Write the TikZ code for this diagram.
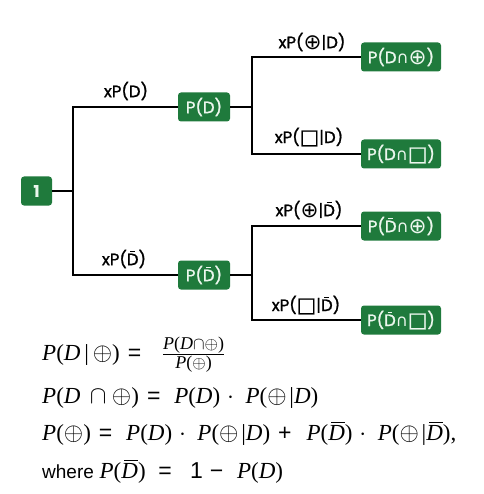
\documentclass[tikz,border=0pt]{standalone}
\usepackage{fontspec}
\setmainfont{Poppins}[FakeBold=1.2]
\newfontfamily\tnr{Liberation Serif}
\newfontfamily\ars{Liberation Sans}
\newfontfamily\dvsop{DejaVu Sans}[Scale=1.3]
\newfontfamily\dvssq{DejaVu Sans}[Scale=1.25,FakeBold=1.2]
\newfontfamily\dvs{DejaVu Sans}
\definecolor{boxgreen}{RGB}{31,122,60}
\definecolor{boxtext}{RGB}{236,247,238}
\newcommand\sOp{{\dvsop\raisebox{-0.05em}{⊕}}}
\newcommand\sCap{{\dvs ∩}}
\newcommand\sSq{{\dvssq\raisebox{-0.04em}{□}}}
\newcommand\Db{{\setbox0\hbox{D}\rlap{\hbox to\wd0{\hss\raise\dimexpr\ht0+1.6pt\relax\hbox{\vrule width .42\wd0 height .9pt depth 0pt}\hss}}\box0}}
\newcommand\fP{\textit{P}}
\newcommand\fD{\textit{D}}
\newcommand\fo{\ensuremath{\oplus}}
\newcommand\fbar{\hspace{0.12em}|}
\newcommand\fdot{\hspace{0.3em}\ensuremath{\cdot}\hspace{0.5em}}
\newcommand\feq{\hspace{0.35em}{\ars=}\hspace{0.6em}}
\newcommand\ovD{{\setbox0\hbox{\textit{D}}\rlap{\kern0.12em\raise\dimexpr\ht0+2.5pt\relax\hbox{\vrule width \dimexpr\wd0-0.1em\relax height .8pt depth 0pt}}\box0}}
\begin{document}
\begin{tikzpicture}[x=1pt,y=-1pt,
  box/.style={fill=boxgreen,text=boxtext,rounded corners=3pt,inner xsep=0pt,inner ysep=0pt,minimum height=29pt,font=\fontsize{16.5}{18}\selectfont},
  rootbox/.style={box,minimum width=31pt,font=\fontsize{16}{18}\selectfont\bfseries},
  midbox/.style={box,minimum width=52pt},
  leafbox/.style={box,minimum width=80pt},
  edgelabel/.style={font=\fontsize{16.5}{18}\selectfont,inner sep=0pt},
  link/.style={line width=2pt,black},
  formula/.style={anchor=base west,inner sep=0pt,font=\fontsize{23}{26}\selectfont\tnr}
]
\useasboundingbox (0,0) rectangle (483,494);
% nodes
\node[rootbox] (r) at (36.5,191) {1};
\node[midbox] (pd) at (204,107) {P(D)};
\node[midbox] (pdb) at (204,275) {P(\Db)};
\node[leafbox] (l1) at (401,57) {P(D\sCap\sOp)};
\node[leafbox] (l2) at (401,154) {P(D\sCap\sSq)};
\node[leafbox] (l3) at (401,226) {P(\Db\sCap\sOp)};
\node[leafbox] (l4) at (401,320) {P(\Db\sCap\sSq)};
% junctions
\coordinate (j0) at (73,191);
\coordinate (j1) at (252,107);
\coordinate (j2) at (252,275);
% connectors
\draw[link] (r.east) -- (j0);
\draw[link] (pd.west) -| (j0);
\draw[link] (pdb.west) -| (j0);
\draw[link] (pd.east) -- (j1);
\draw[link] (l1.west) -| (j1);
\draw[link] (l2.west) -| (j1);
\draw[link] (pdb.east) -- (j2);
\draw[link] (l3.west) -| (j2);
\draw[link] (l4.west) -| (j2);
% edge labels
\node[edgelabel] (ea) at (126,91) {xP(D)};
\node[edgelabel] (eb) at (124,259) {xP(\Db)};
\node[edgelabel] (ec) at (312,42) {xP(\sOp|D)};
\node[edgelabel] (ed) at (309,137) {xP(\sSq|D)};
\node[edgelabel] (ee) at (309,210) {xP(\sOp|\Db)};
\node[edgelabel] (ef) at (306,305) {xP(\sSq|\Db)};
% formulas
\node[formula] (f1) at (42,360) {\fP(\fD\,|\,\fo)\feq\hspace{0.3em}$\frac{\hbox{\fontsize{18}{20}\selectfont\tnr\fP(\fD$\cap$\fo)}}{\hbox{\fontsize{18}{20}\selectfont\tnr\fP(\fo)}}$};
\node[formula] (f2) at (42,403) {\fP(\fD\,${}\cap{}$\fo)\feq\fP(\fD)\fdot\fP(\fo\fbar\fD)};
\node[formula] (f3) at (42,440) {\fP(\fo)\feq\fP(\fD)\fdot\fP(\fo\fbar\fD)\hspace{0.35em}{\ars+}\hspace{0.65em}\fP(\ovD)\fdot\fP(\fo\fbar\ovD),};
\node[formula] (f4) at (42,478) {{\ars\fontsize{19}{21}\selectfont where} \fP(\ovD)\hspace{0.2em}\feq\hspace{0.2em}{\ars 1\hspace{0.3em}−}\hspace{0.6em}\fP(\fD)};
\end{tikzpicture}
\end{document}
